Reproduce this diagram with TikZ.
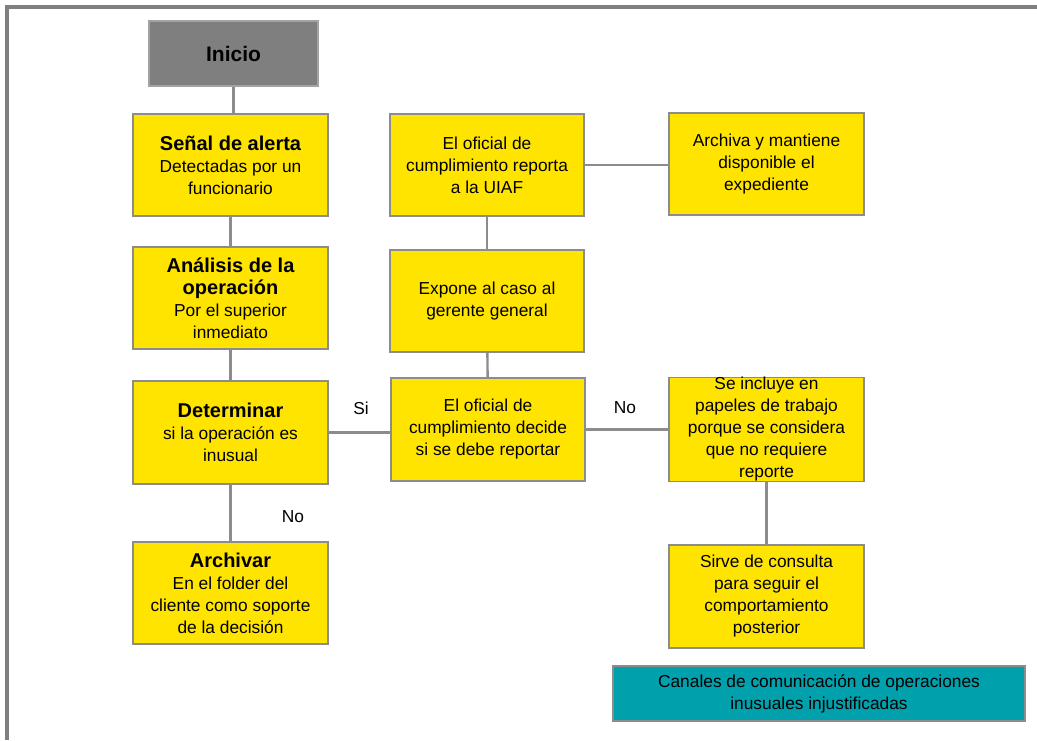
\documentclass[tikz,border=0pt]{standalone}
\usepackage{fontspec}
\setmainfont{Liberation Sans}
\usetikzlibrary{positioning}
\definecolor{myellow}{RGB}{255,228,0}
\definecolor{mteal}{RGB}{0,161,172}
\definecolor{mgray}{RGB}{127,127,127}
\definecolor{lgray}{RGB}{140,140,140}
\tikzset{box/.style = {draw=lgray, line width=1.3pt, fill=myellow, align=center,
                       minimum width=146pt, minimum height=77pt, inner sep=0,
                       font=\fontsize{13}{16.5}\selectfont}}
\tikzset{startbox/.style = {box, fill=mgray, draw=lgray!80, minimum width=127pt,
                            minimum height=49pt, font=\fontsize{15.75}{18}\selectfont\bfseries}}
\tikzset{notebox/.style = {box, fill=mteal, minimum width=309pt, minimum height=41pt}}
\tikzset{link/.style = {draw=lgray, line width=1.8pt}}
\tikzset{lbl/.style = {font=\fontsize{13}{16.5}\selectfont}}
\newcommand{\ttl}[1]{{\fontsize{15}{18}\selectfont\bfseries #1}}

\begin{document}
\begin{tikzpicture}[x=0.75pt, y=-0.75pt]
    \useasboundingbox (0, 0) rectangle (1037, 740);
    \draw [mgray, line width=2.4pt] (7, 740) -- (7, 7) -- (1037, 7);

    \node [startbox] (inicio) at (233.5, 53.5) {Inicio};
    \node [box] (senal) at (230.5, 165) {\ttl{Señal de alerta}\\Detectadas por un\\funcionario};
    \node [box] (analisis) at (230.5, 298) {\ttl{Análisis de la}\\\ttl{operación}\\Por el superior\\inmediato};
    \node [box] (determinar) at (230.5, 432.5) {\ttl{Determinar}\\si la operación es\\inusual};
    \node [box] (archivar) at (230.5, 593) {\ttl{Archivar}\\En el folder del\\cliente como soporte\\de la decisión};

    \node [box] (uiaf) at (487, 165) {El oficial de\\cumplimiento reporta\\a la UIAF};
    \node [box] (expone) at (487, 301) {Expone al caso al\\gerente general};
    \node [box] (decide) at (488, 429.5) {El oficial de\\cumplimiento decide\\si se debe reportar};

    \node [box] (archiva) at (766.5, 164) {Archiva y mantiene\\disponible el\\expediente};
    \node [box] (incluye) at (766.5, 429.5) {Se incluye en\\papeles de trabajo\\porque se considera\\que no requiere\\reporte};
    \node [box] (sirve) at (766.5, 596.5) {Sirve de consulta\\para seguir el\\comportamiento\\posterior};

    \node [notebox] (canales) at (819, 693.5) {Canales de comunicación de operaciones\\inusuales injustificadas};

    \draw [link] (inicio.south) -- (inicio.south |- senal.north);
    \draw [link] (senal) -- (analisis);
    \draw [link] (analisis) -- (determinar);
    \draw [link] (determinar) -- (archivar);
    \draw [link] (determinar.east) -- (determinar.east -| decide.west);
    \draw [link] (decide.east) -- (decide.east -| incluye.west);
    \draw [link] (uiaf) -- (expone);
    \draw [link] (expone) -- (decide);
    \draw [link] (uiaf.east) -- (uiaf.east -| archiva.west);
    \draw [link] (incluye) -- (sirve);

    \node [lbl] (si) at (361, 408) {Si};
    \node [lbl] (nodecide) at (625, 408) {No};
    \node [lbl] (noarchivar) at (293, 517) {No};
\end{tikzpicture}
\end{document}
